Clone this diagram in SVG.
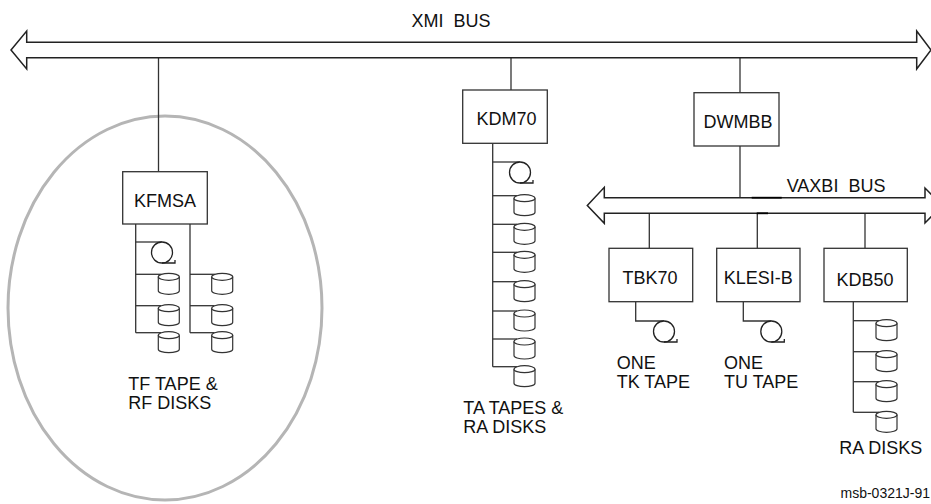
<svg xmlns="http://www.w3.org/2000/svg" xmlns:xlink="http://www.w3.org/1999/xlink" width="931" height="504" viewBox="0 0 931 504">
<style>
.ln{stroke:#333;stroke-width:1.3;fill:none}
.bus{stroke:#222;stroke-width:1.5;fill:white}
.box{stroke:#333;stroke-width:1.3;fill:white}
.t{font-family:"Liberation Sans",Arial,sans-serif;font-size:18px;fill:#111}
.tc{text-anchor:middle}
.sm{font-size:14px}
</style>
<defs>
<g id="disk">
<path d="M0,2.5 V16.5 A10.5,3.5 0 0 0 21,16.5 V2.5" fill="white" stroke="#333" stroke-width="1.2"/>
<ellipse cx="10.5" cy="2.5" rx="10.5" ry="3.5" fill="white" stroke="#333" stroke-width="1.2"/>
</g>
<g id="tape">
<circle cx="0" cy="10.5" r="10.5" fill="white" stroke="#222" stroke-width="1.3"/>
<path d="M0,21 H13 V18" fill="none" stroke="#222" stroke-width="1.3"/>
</g>
</defs>
<rect width="931" height="504" fill="white"/>

<ellipse id="tf-group" cx="165" cy="308" rx="157" ry="192" fill="none" stroke="#b5b5b5" stroke-width="3"/>

<g id="connectors">
<line class="ln" x1="158.5" y1="57.7" x2="158.5" y2="171.7"/>
<line class="ln" x1="511" y1="57.7" x2="511" y2="90"/>
<line class="ln" x1="740" y1="57.7" x2="740" y2="92.7"/>
<line class="ln" x1="740" y1="146" x2="740" y2="197.7"/>
<line class="ln" x1="649.3" y1="213.3" x2="649.3" y2="248.3"/>
<line class="ln" x1="757.3" y1="213.3" x2="757.3" y2="248.3"/>
<line class="ln" x1="865" y1="213.3" x2="865" y2="248.3"/>
<!-- KFMSA rails -->
<line class="ln" x1="135.7" y1="224" x2="135.7" y2="332.7"/>
<line class="ln" x1="190" y1="224" x2="190" y2="332.7"/>
<line class="ln" x1="135.7" y1="242" x2="162" y2="242"/>
<line class="ln" x1="135.7" y1="274.3" x2="161.3" y2="274.3"/>
<line class="ln" x1="135.7" y1="305.7" x2="161.3" y2="305.7"/>
<line class="ln" x1="135.7" y1="332.7" x2="161.3" y2="332.7"/>
<line class="ln" x1="190" y1="274.3" x2="214.7" y2="274.3"/>
<line class="ln" x1="190" y1="305.7" x2="214.7" y2="305.7"/>
<line class="ln" x1="190" y1="332.7" x2="214.7" y2="332.7"/>
<!-- KDM70 rail -->
<line class="ln" x1="492.7" y1="143.3" x2="492.7" y2="366.7"/>
<line class="ln" x1="492.7" y1="162" x2="520" y2="162"/>
<line class="ln" x1="492.7" y1="195.7" x2="517" y2="195.7"/>
<line class="ln" x1="492.7" y1="224.3" x2="517" y2="224.3"/>
<line class="ln" x1="492.7" y1="252.3" x2="517" y2="252.3"/>
<line class="ln" x1="492.7" y1="281.7" x2="517" y2="281.7"/>
<line class="ln" x1="492.7" y1="311" x2="517" y2="311"/>
<line class="ln" x1="492.7" y1="339" x2="517" y2="339"/>
<line class="ln" x1="492.7" y1="366.7" x2="517" y2="366.7"/>
<!-- TBK70 / KLESI-B tapes -->
<polyline class="ln" points="635.7,301.7 635.7,321 664,321"/>
<polyline class="ln" points="743.3,301.7 743.3,321 771.3,321"/>
<!-- KDB50 rail -->
<line class="ln" x1="853.3" y1="301.7" x2="853.3" y2="412.3"/>
<line class="ln" x1="853.3" y1="320.7" x2="879" y2="320.7"/>
<line class="ln" x1="853.3" y1="351.7" x2="879" y2="351.7"/>
<line class="ln" x1="853.3" y1="381.7" x2="879" y2="381.7"/>
<line class="ln" x1="853.3" y1="412.3" x2="879" y2="412.3"/>
</g>

<g id="xmi-bus">
<path class="bus" d="M26.7,42.3 H916.7 V31 L931,50 L916.7,69 V57.7 H26.7 V69 L11,50 L26.7,31 Z"/>
<text class="t tc" x="451" y="26.7" xml:space="preserve">XMI  BUS</text>
</g>

<g id="vaxbi-bus">
<path class="bus" d="M604.3,197.7 H925 V188 L942,205.5 L925,223 V213.3 H604.3 V223.3 L587.3,205.5 L604.3,187.3 Z"/>
<line x1="751.7" y1="197.7" x2="781.7" y2="197.7" stroke="#000" stroke-width="1.8"/>
<line x1="756.7" y1="213.3" x2="768" y2="213.3" stroke="#000" stroke-width="1.8"/>
<text class="t" x="786.7" y="192.3" xml:space="preserve">VAXBI  BUS</text>
</g>

<g id="kfmsa">
<rect class="box" x="122.7" y="171.7" width="84.6" height="52.3"/>
<text class="t tc" x="165" y="206.5">KFMSA</text>
<use xlink:href="#tape" x="162" y="242"/>
<use xlink:href="#disk" x="158.3" y="274.3"/>
<use xlink:href="#disk" x="158.3" y="305.7"/>
<use xlink:href="#disk" x="158.3" y="332.7"/>
<use xlink:href="#disk" x="211.7" y="274.3"/>
<use xlink:href="#disk" x="211.7" y="305.7"/>
<use xlink:href="#disk" x="211.7" y="332.7"/>
<text class="t" x="128.3" y="390">TF TAPE &amp;</text>
<text class="t" x="128.3" y="409">RF DISKS</text>
</g>

<g id="kdm70">
<rect class="box" x="462.7" y="90" width="84.6" height="53.3"/>
<text class="t tc" x="506.5" y="125">KDM70</text>
<use xlink:href="#tape" x="520" y="162"/>
<use xlink:href="#disk" x="514" y="195.7"/>
<use xlink:href="#disk" x="514" y="224.3"/>
<use xlink:href="#disk" x="514" y="252.3"/>
<use xlink:href="#disk" x="514" y="281.7"/>
<use xlink:href="#disk" x="514" y="311"/>
<use xlink:href="#disk" x="514" y="339"/>
<use xlink:href="#disk" x="514" y="366.7"/>
<text class="t" x="463.3" y="413.5">TA TAPES &amp;</text>
<text class="t" x="463.3" y="432.5">RA DISKS</text>
</g>

<g id="dwmbb">
<rect class="box" x="694" y="92.7" width="85" height="53.3"/>
<text class="t tc" x="738" y="128.3">DWMBB</text>
</g>

<g id="tbk70">
<rect class="box" x="609" y="248.3" width="83.7" height="53.4"/>
<text class="t tc" x="650" y="284">TBK70</text>
<use xlink:href="#tape" x="664" y="321"/>
<text class="t" x="616.7" y="369.3">ONE</text>
<text class="t" x="616.7" y="388.3">TK TAPE</text>
</g>

<g id="klesi-b">
<rect class="box" x="716.7" y="248.3" width="83.3" height="53.4"/>
<text class="t tc" x="758.3" y="284">KLESI-B</text>
<use xlink:href="#tape" x="771.3" y="321"/>
<text class="t" x="724" y="369.3">ONE</text>
<text class="t" x="724" y="388.3">TU TAPE</text>
</g>

<g id="kdb50">
<rect class="box" x="824" y="248.3" width="83.3" height="53.4"/>
<text class="t tc" x="865" y="286">KDB50</text>
<use xlink:href="#disk" x="876" y="320.7"/>
<use xlink:href="#disk" x="876" y="351.7"/>
<use xlink:href="#disk" x="876" y="381.7"/>
<use xlink:href="#disk" x="876" y="412.3"/>
<text class="t" x="839.3" y="454">RA DISKS</text>
</g>

<text class="t sm" x="930" y="498" text-anchor="end">msb-0321J-91</text>
</svg>
